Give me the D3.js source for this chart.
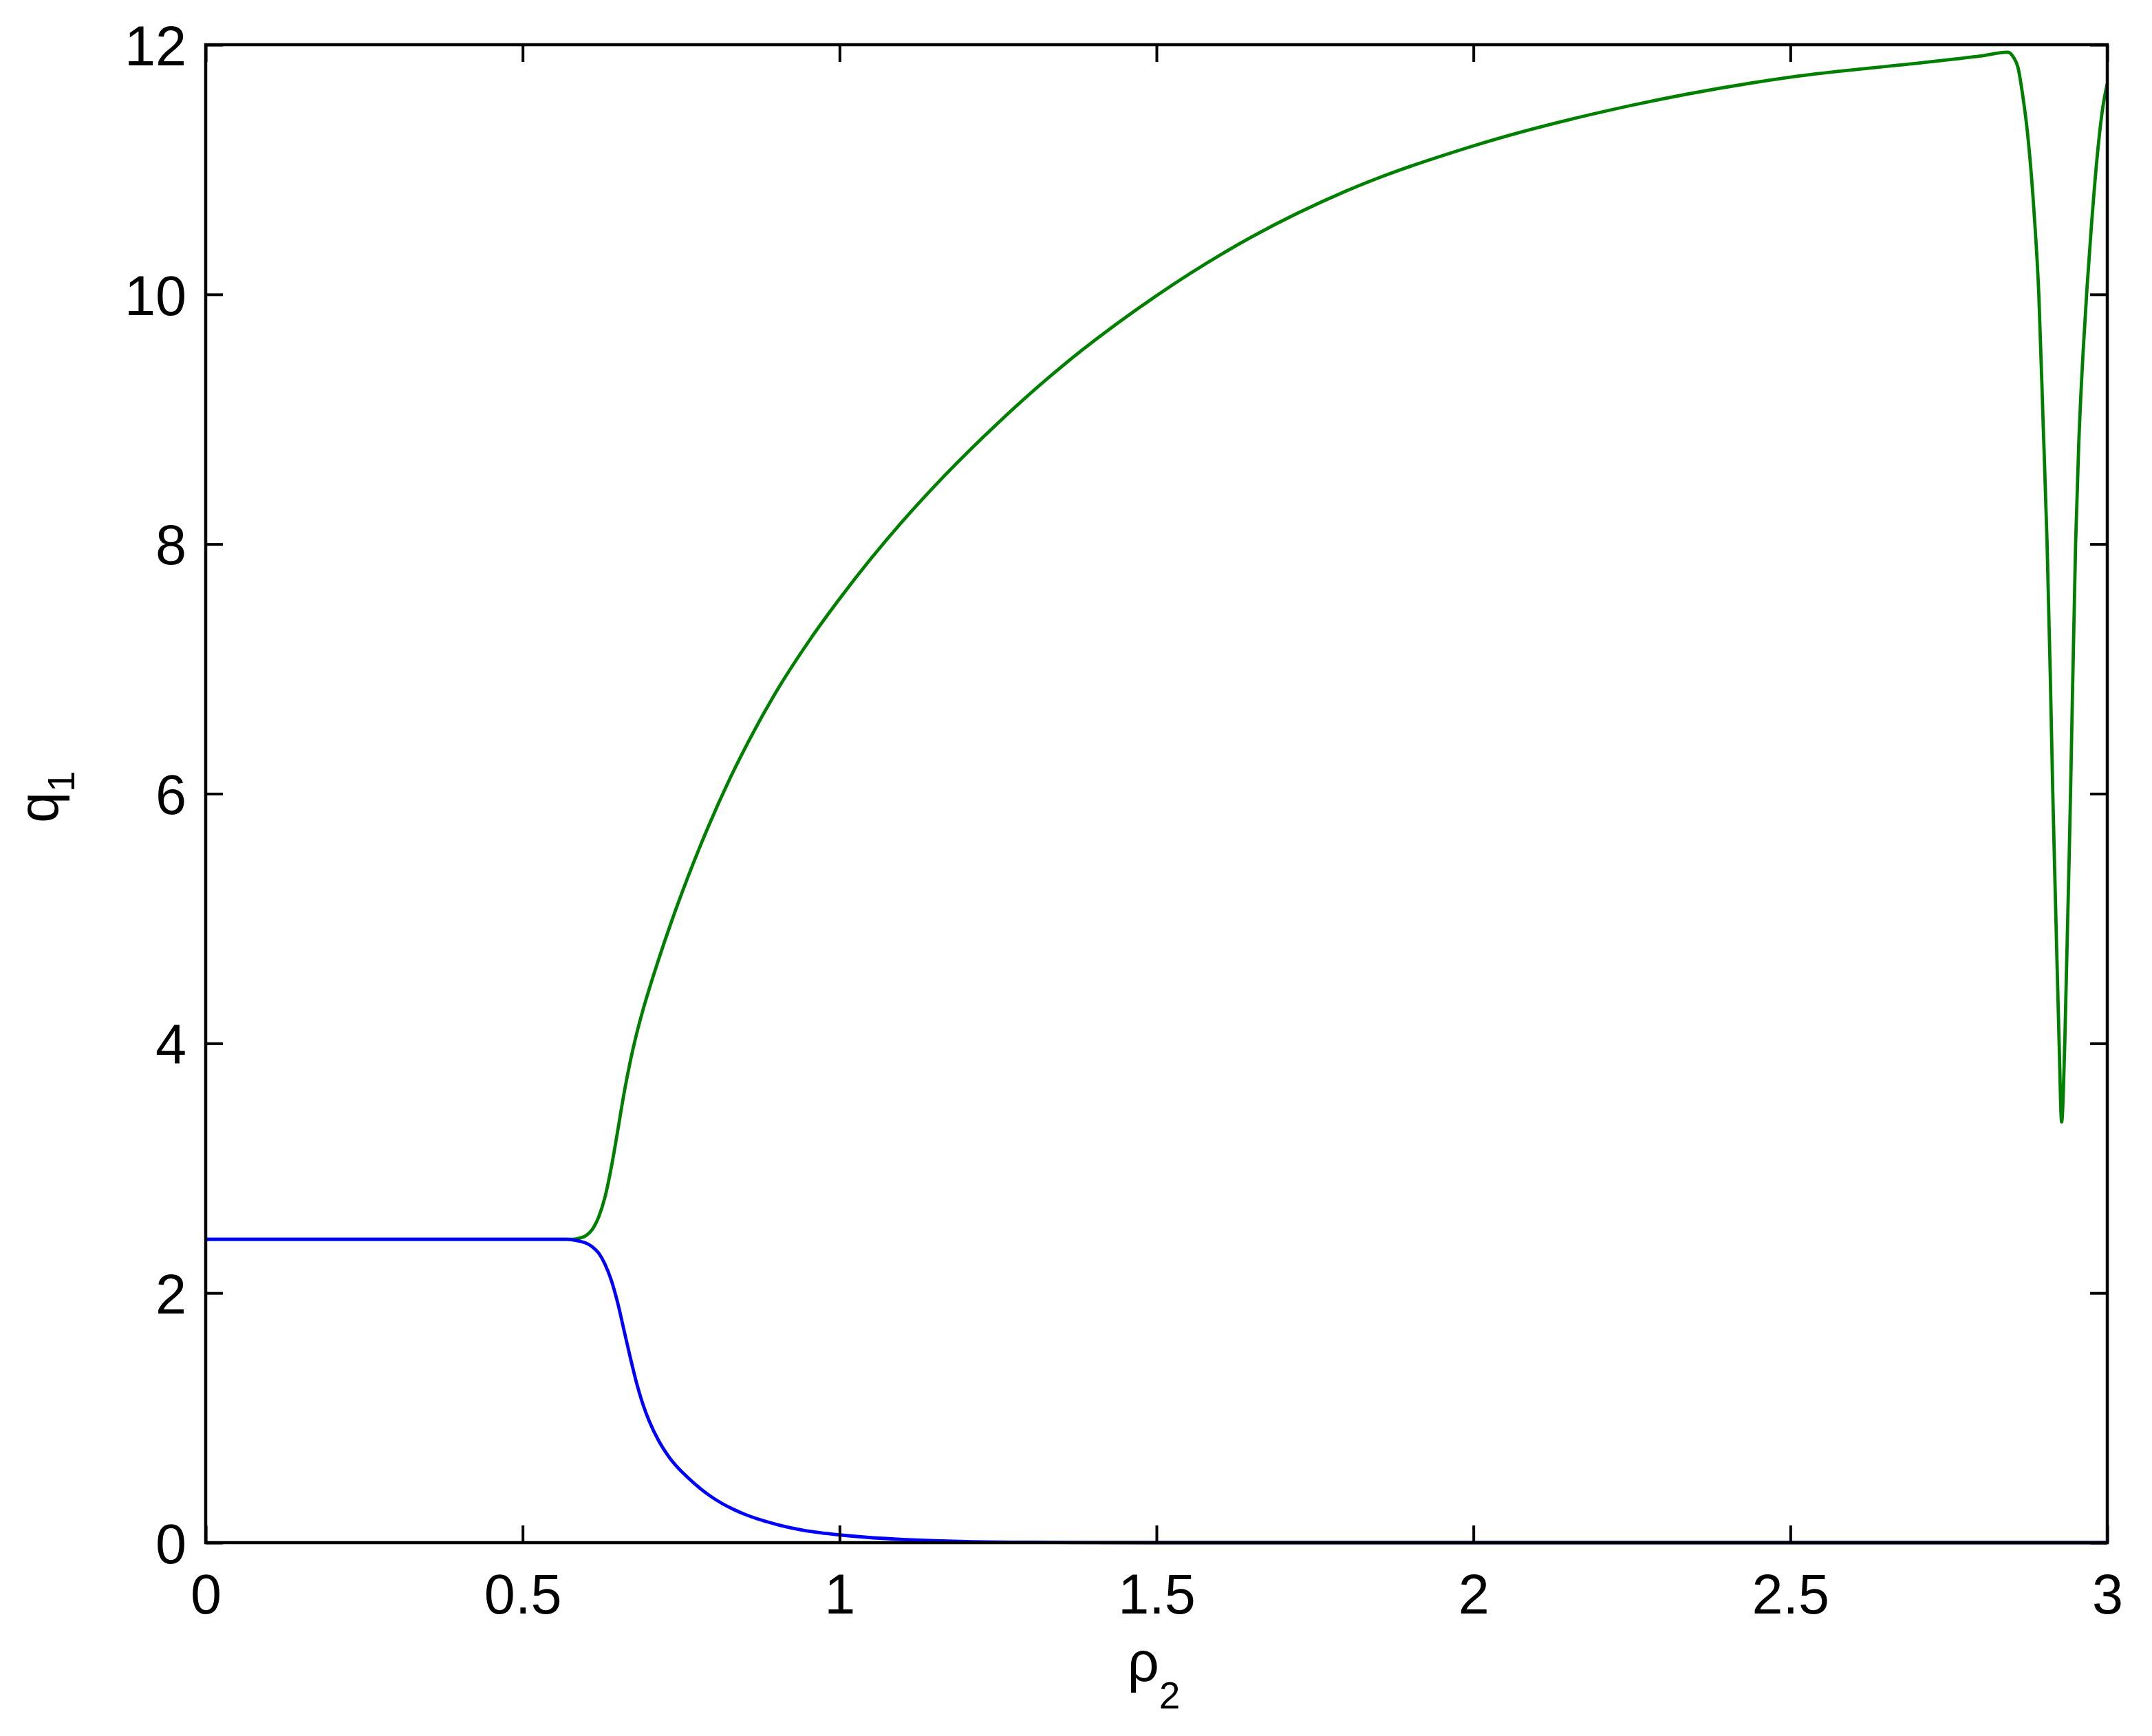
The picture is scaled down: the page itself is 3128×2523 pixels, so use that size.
<!DOCTYPE html>
<html>
<head>
<meta charset="utf-8">
<script src="https://cdn.jsdelivr.net/npm/d3@7"></script>
<style>
  html, body { margin: 0; padding: 0; background: #fff; }
  text { font-family: "Liberation Sans", Arial, Helvetica, sans-serif; fill: #000; }
</style>
</head>
<body>
<svg id="chart" width="3128" height="2523"></svg>
<script>
// ---- data ----
const greenRho = [0, 0.55, 0.58, 0.59, 0.60, 0.61, 0.62, 0.63, 0.64, 0.65, 0.66, 0.67, 0.68, 0.69, 0.70, 0.713, 0.735, 0.759, 0.793, 0.827, 0.866, 0.905, 0.953, 1.0, 1.05, 1.1, 1.166, 1.25, 1.35, 1.5, 1.65, 1.8, 2.0, 2.25, 2.5, 2.715, 2.80, 2.843, 2.852, 2.859, 2.867, 2.874, 2.885, 2.892, 2.899, 2.905, 2.910, 2.914, 2.919, 2.924, 2.928, 2.933, 2.942, 2.950, 2.955, 2.962, 2.968, 2.975, 2.984, 2.993, 3.0];
const greenQ   = [2.43, 2.43, 2.43, 2.44, 2.46, 2.51, 2.61, 2.77, 3.01, 3.30, 3.60, 3.86, 4.08, 4.27, 4.44, 4.648, 4.978, 5.309, 5.737, 6.121, 6.511, 6.858, 7.232, 7.561, 7.886, 8.186, 8.55, 8.97, 9.42, 9.99, 10.46, 10.83, 11.19, 11.515, 11.74, 11.86, 11.91, 11.94, 11.90, 11.82, 11.58, 11.30, 10.62, 10.0, 8.94, 8.01, 6.97, 6.01, 4.99, 4.01, 3.37, 4.01, 6.0, 8.0, 8.8, 9.55, 10.05, 10.55, 11.1, 11.5, 11.69];

const blueRho = [0, 0.55, 0.57, 0.58, 0.59, 0.60, 0.61, 0.62, 0.63, 0.64, 0.65, 0.66, 0.67, 0.68, 0.69, 0.70, 0.715, 0.73, 0.745, 0.761, 0.78, 0.797, 0.815, 0.833, 0.85, 0.869, 0.887, 0.905, 0.942, 0.97, 1.0, 1.05, 1.1, 1.15, 1.2, 1.3, 1.4, 1.5, 2.0, 2.5, 3.0];
const blueQ   = [2.43, 2.43, 2.43, 2.425, 2.415, 2.40, 2.37, 2.32, 2.23, 2.10, 1.92, 1.70, 1.48, 1.275, 1.105, 0.97, 0.813, 0.693, 0.60, 0.52, 0.435, 0.37, 0.313, 0.266, 0.228, 0.193, 0.165, 0.14, 0.10, 0.079, 0.062, 0.040, 0.026, 0.016, 0.009, 0.003, 0.001, 0, 0, 0, 0];

const xTicks = [0, 0.5, 1, 1.5, 2, 2.5, 3];
const xTickLabels = ["0", "0.5", "1", "1.5", "2", "2.5", "3"];
const yTicks = [0, 2, 4, 6, 8, 10, 12];
const yTickLabels = ["0", "2", "4", "6", "8", "10", "12"];

// ---- layout ----
const mLeft = 299, mRight = 3063, mTop = 65, mBottom = 2242;
const tickLen = 25;
const fontSize = 81;

const svg = d3.select("#chart");
const x = d3.scaleLinear().domain([0, 3]).range([mLeft, mRight]);
const y = d3.scaleLinear().domain([0, 12]).range([mBottom, mTop]);

// lines
const line = d3.line().x(d => x(d[0])).y(d => y(d[1])).curve(d3.curveMonotoneX);
const gLines = svg.append("g");
gLines.append("path")
  .datum(greenRho.map((r, i) => [r, greenQ[i]]))
  .attr("d", line).attr("fill", "none").attr("stroke", "#008000").attr("stroke-width", 4.8)
  .attr("stroke-linejoin", "round");
gLines.append("path")
  .datum(blueRho.map((r, i) => [r, blueQ[i]]))
  .attr("d", line).attr("fill", "none").attr("stroke", "#0000ff").attr("stroke-width", 4.8)
  .attr("stroke-linejoin", "round");

// axes (inward ticks, mirrored)
function styleAxis(g) {
  g.selectAll("path.domain").remove();
  g.selectAll(".tick line").attr("stroke", "#000").attr("stroke-width", 4);
}
const fmtX = (d, i) => xTickLabels[i];
const fmtY = (d, i) => yTickLabels[i];

const xb = svg.append("g").attr("transform", `translate(0,${mBottom})`)
  .call(d3.axisBottom(x).tickValues(xTicks).tickFormat(fmtX).tickSizeInner(-tickLen).tickSizeOuter(0).tickPadding(45));
styleAxis(xb);
xb.selectAll(".tick text").attr("font-size", fontSize).attr("font-family", "Liberation Sans, Arial, sans-serif").attr("dy", "0.71em");

const xt = svg.append("g").attr("transform", `translate(0,${mTop})`)
  .call(d3.axisTop(x).tickValues(xTicks).tickFormat("").tickSizeInner(-tickLen).tickSizeOuter(0));
styleAxis(xt);

const yl = svg.append("g").attr("transform", `translate(${mLeft},0)`)
  .call(d3.axisLeft(y).tickValues(yTicks).tickFormat(fmtY).tickSizeInner(-tickLen).tickSizeOuter(0).tickPadding(28));
styleAxis(yl);
yl.selectAll(".tick text").attr("font-size", fontSize).attr("font-family", "Liberation Sans, Arial, sans-serif").attr("dy", "0.36em");

const yr = svg.append("g").attr("transform", `translate(${mRight},0)`)
  .call(d3.axisRight(y).tickValues(yTicks).tickFormat("").tickSizeInner(-tickLen).tickSizeOuter(0));
styleAxis(yr);

// frame
svg.append("rect").attr("x", mLeft).attr("y", mTop).attr("width", mRight - mLeft).attr("height", mBottom - mTop)
  .attr("fill", "none").attr("stroke", "#000").attr("stroke-width", 4.5);

// axis labels
const xl = svg.append("text").attr("x", (mLeft + mRight) / 2 - 4).attr("y", 2443)
  .attr("text-anchor", "middle").attr("font-size", fontSize);
xl.append("tspan").text("ρ");
xl.append("tspan").attr("font-size", 55).attr("dy", 40).text("2");

const ylab = svg.append("text").attr("transform", `translate(84,1196) rotate(-90)`)
  .attr("text-anchor", "start").attr("font-size", fontSize);
ylab.append("tspan").text("q");
ylab.append("tspan").attr("font-size", 55).attr("dy", 24).text("1");
</script>
</body>
</html>
